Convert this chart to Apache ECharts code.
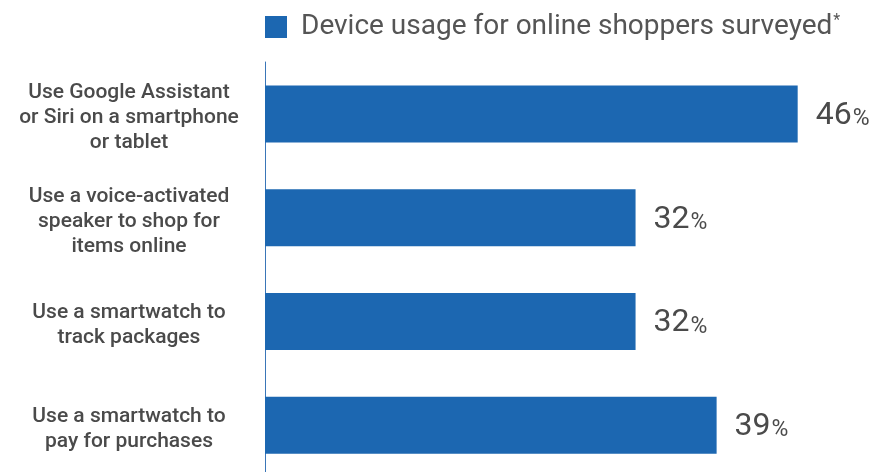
<!DOCTYPE html>
<html>
<head>
<meta charset="utf-8">
<script src="https://cdn.jsdelivr.net/npm/echarts@6/dist/echarts.min.js"></script>
<style>
  html, body { margin: 0; padding: 0; background: #ffffff; }
  #chart { width: 886px; height: 472px; }
</style>
</head>
<body>
<div id="chart"></div>
<script>
// Survey categories (top to bottom) and share of respondents, in percent
const categories = [
  'Use Google Assistant\nor Siri on a smartphone\nor tablet',
  'Use a voice-activated\nspeaker to shop for\nitems online',
  'Use a smartwatch to\ntrack packages',
  'Use a smartwatch to\npay for purchases'
];
const usage = [46, 32, 32, 39];
const seriesName = 'Device usage for online shoppers surveyed';

const BLUE = '#1c67b1';
const TEXT = '#4a4a4a';
const FONT = 'Roboto, "Noto Sans", sans-serif';

const chart = echarts.init(document.getElementById('chart'), null, { renderer: 'canvas' });

chart.setOption({
  animation: false,
  backgroundColor: '#ffffff',
  textStyle: { fontFamily: FONT },
  legend: {
    left: 265,
    top: 13,
    padding: 0,
    itemWidth: 22,
    itemHeight: 22,
    icon: 'rect',
    data: [seriesName],
    formatter: function (name) { return '{t|' + name + '}{s|*}'; },
    textStyle: {
      rich: {
        t: { fontFamily: FONT, fontSize: 28, color: '#555555', padding: [0, 0, 0, 9] },
        s: { fontFamily: FONT, fontSize: 16, color: '#555555', verticalAlign: 'top', padding: [0, 0, 10, 1] }
      }
    }
  },
  grid: {
    left: 265,
    top: 62,
    width: 579,
    height: 415,
    outerBoundsMode: 'none',
    containLabel: false
  },
  xAxis: {
    type: 'value',
    min: 0,
    max: 50,
    show: false
  },
  yAxis: {
    type: 'category',
    inverse: true,
    data: categories,
    axisLine: { show: true, lineStyle: { color: '#3a76b8', width: 1 } },
    axisTick: { show: false },
    splitLine: { show: false },
    axisLabel: {
      align: 'center',
      margin: 136,
      fontFamily: FONT,
      fontSize: 21,
      fontWeight: 500,
      lineHeight: 25,
      color: TEXT,
      // a thin spacer line above the text nudges each block slightly down
      formatter: function (v) { return '{gap| }\n' + v; },
      rich: {
        gap: { fontSize: 1, lineHeight: 8 }
      }
    }
  },
  series: [{
    name: seriesName,
    type: 'bar',
    data: usage,
    barWidth: 57,
    itemStyle: { color: BLUE },
    label: {
      show: true,
      position: 'right',
      distance: 18,
      offset: [0, 2],
      formatter: function (p) { return '{v|' + p.value + '}{p|%}'; },
      rich: {
        v: { fontFamily: FONT, fontSize: 32, color: TEXT, lineHeight: 40 },
        p: { fontFamily: FONT, fontSize: 23, color: TEXT, lineHeight: 40, padding: [7, 0, 0, 1] }
      }
    }
  }]
});
</script>
</body>
</html>
